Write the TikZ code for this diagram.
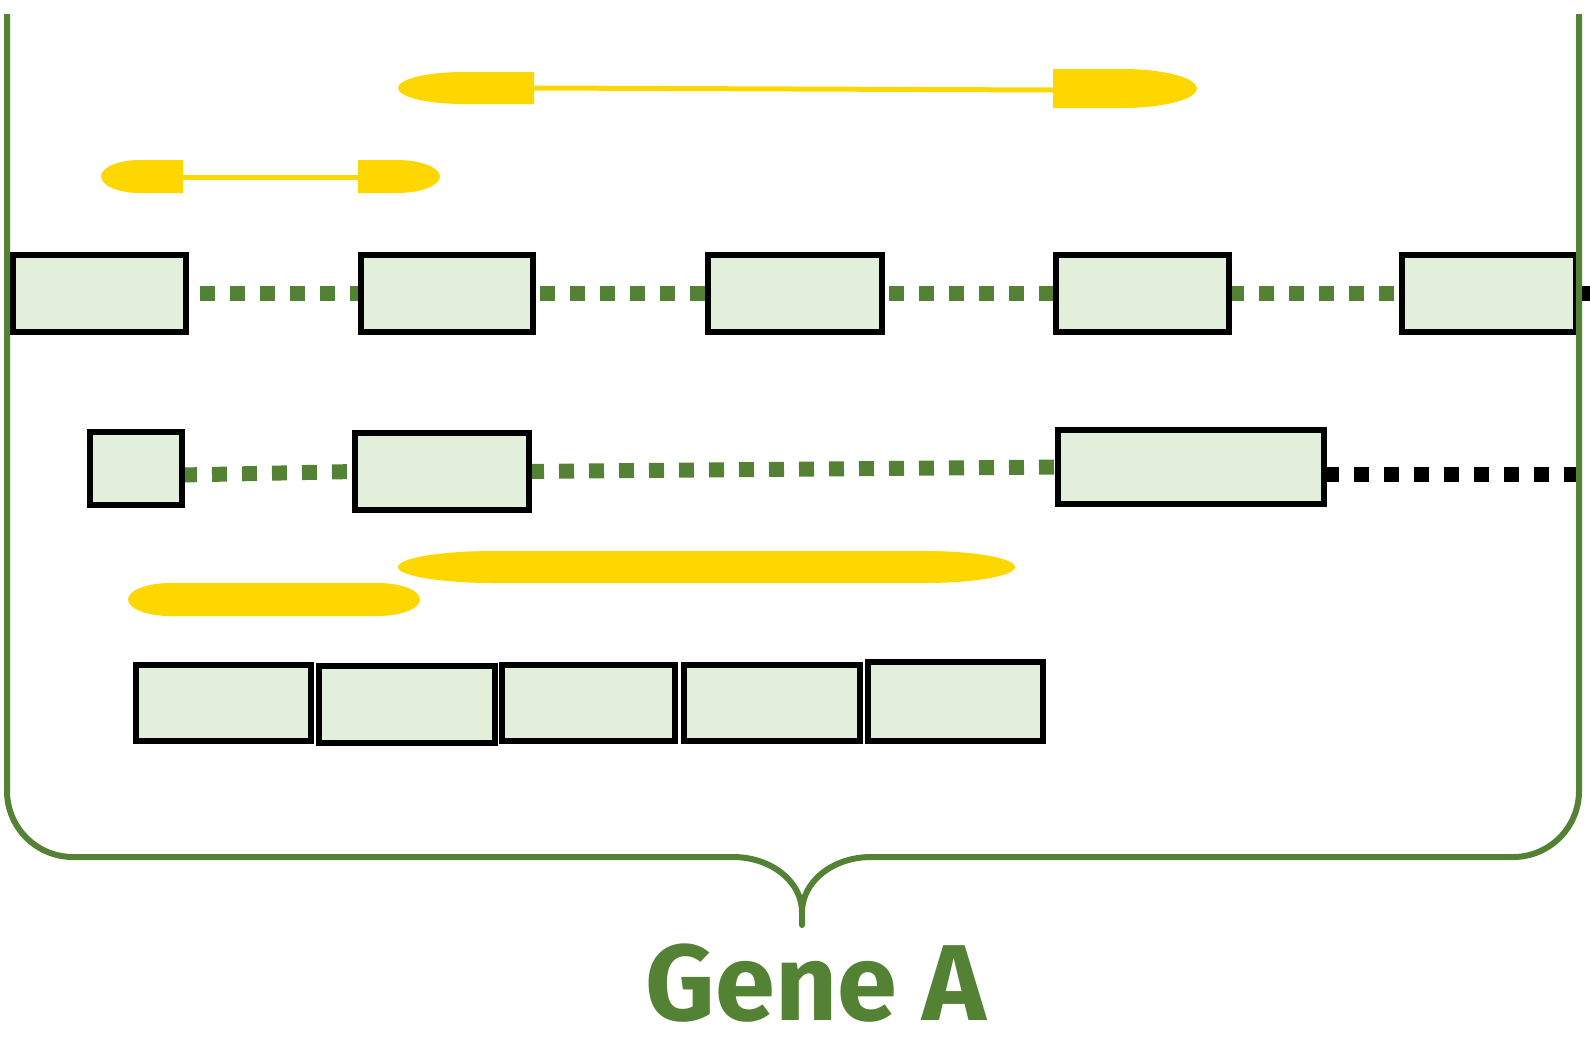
\documentclass[tikz,border=0pt]{standalone}
\usepackage{fontspec}
\newfontfamily\genefont{Fira Sans}
\usetikzlibrary{fit,backgrounds}
\definecolor{gA}{HTML}{548235}
\definecolor{exfill}{HTML}{E2EFDA}
\definecolor{yel}{HTML}{FFD700}
\begin{document}
\begin{tikzpicture}[x=0.5pt,y=-0.5pt,
  exon/.style={draw=black, line width=3pt, fill=exfill, inner sep=0pt, outer sep=0pt, rectangle},
  gdots/.style={draw=gA, line width=7.5pt, dash pattern=on 7.5pt off 7.5pt},
  kdots/.style={draw=black, line width=7.5pt, dash pattern=on 7.5pt off 7.5pt},
  yelshape/.style={fill=yel},
  yelline/.style={draw=yel, line width=2.5pt},
  brace/.style={draw=gA, line width=3pt, line join=round},
  genetext/.style={text=gA, font=\genefont\bfseries\fontsize{54pt}{58pt}\selectfont, inner sep=0pt}]
\useasboundingbox (0,0) rectangle (1590,1050);

% ---- yellow reads ----
\fill[yelshape] (534,104) -- (463,104) arc[start angle=90, end angle=270, x radius=65, y radius=16] -- (534,72) -- cycle;
\fill[yelshape] (1053,69) -- (1122,69) arc[start angle=-90, end angle=90, x radius=75, y radius=19.5] -- (1053,108) -- cycle;
\coordinate (y1l) at (534,88);
\coordinate (y1r) at (1053,90);
\draw[yelline] (y1l) -- (y1r);

\fill[yelshape] (183,193) -- (140,193) arc[start angle=90, end angle=270, x radius=39, y radius=16.5] -- (183,160) -- cycle;
\fill[yelshape] (358,160) -- (397,160) arc[start angle=-90, end angle=90, x radius=43, y radius=16.5] -- (358,193) -- cycle;
\coordinate (y2l) at (183,177);
\coordinate (y2r) at (358,177);
\draw[yelline] (y2l) -- (y2r);

\fill[yelshape] (170,583) -- (378,583) arc[start angle=-90, end angle=90, x radius=42, y radius=16.5] -- (170,616) arc[start angle=90, end angle=270, x radius=42, y radius=16.5] -- cycle;
\fill[yelshape] (493,551) -- (925,551) arc[start angle=-90, end angle=90, x radius=90, y radius=16] -- (493,583) arc[start angle=90, end angle=270, x radius=95, y radius=16] -- cycle;

% ---- row 1 exons ----
\node[exon, fit={(13,255) (186,332)}] (r1a) {};
\node[exon, fit={(361,255) (533,332)}] (r1b) {};
\node[exon, fit={(708,255) (882,332)}] (r1c) {};
\node[exon, fit={(1056,255) (1229,332)}] (r1d) {};
\node[exon, fit={(1402,255) (1576,332)}] (r1e) {};
\coordinate (r1end) at (1590,293.5);

% ---- row 2 exons ----
\node[exon, fit={(90,432) (182,505)}] (r2a) {};
\node[exon, fit={(355,433) (529,510)}] (r2b) {};
\node[exon, fit={(1058,430) (1324,504)}] (r2c) {};
\coordinate (r2end) at (1590,474);

% ---- row 3 exons ----
\node[exon, fit={(136,665) (311,741)}] (r3a) {};
\node[exon, fit={(319,666) (495,743)}] (r3b) {};
\node[exon, fit={(502,665) (675,741)}] (r3c) {};
\node[exon, fit={(684,665) (860,741)}] (r3d) {};
\node[exon, fit={(868,662) (1043,741)}] (r3e) {};

\begin{scope}[on background layer]
  \draw[gdots, dash phase=8pt] (r1a.east) -- (r1b.west);
  \draw[gdots, dash phase=11.5pt] (r1b.east) -- (r1c.west);
  \draw[gdots, dash phase=11.5pt] (r1c.east) -- (r1d.west);
  \draw[gdots] (r1d.east) -- (r1e.west);
  \draw[kdots] (r1e.east) -- (r1end);
  \draw[gdots] ([yshift=-3.25pt]r2a.east) -- (r2b.west);
  \draw[gdots] (r2b.east) -- (r2c.west);
  \draw[kdots] ([yshift=-3.5pt]r2c.east) -- (r2end);
\end{scope}

% ---- bracket ----
\draw[brace] (7,14) -- (7,791) arc[start angle=180, end angle=90, radius=66]
  -- (733,857) arc[start angle=-90, end angle=0, x radius=69, y radius=55]
  -- (802,925) -- (802,912) arc[start angle=180, end angle=270, x radius=69, y radius=55]
  -- (1513,857) arc[start angle=90, end angle=0, radius=66] -- (1579,14);

\node[genetext, anchor=base] (label) at (816,1020) {Gene A};
\end{tikzpicture}
\end{document}
